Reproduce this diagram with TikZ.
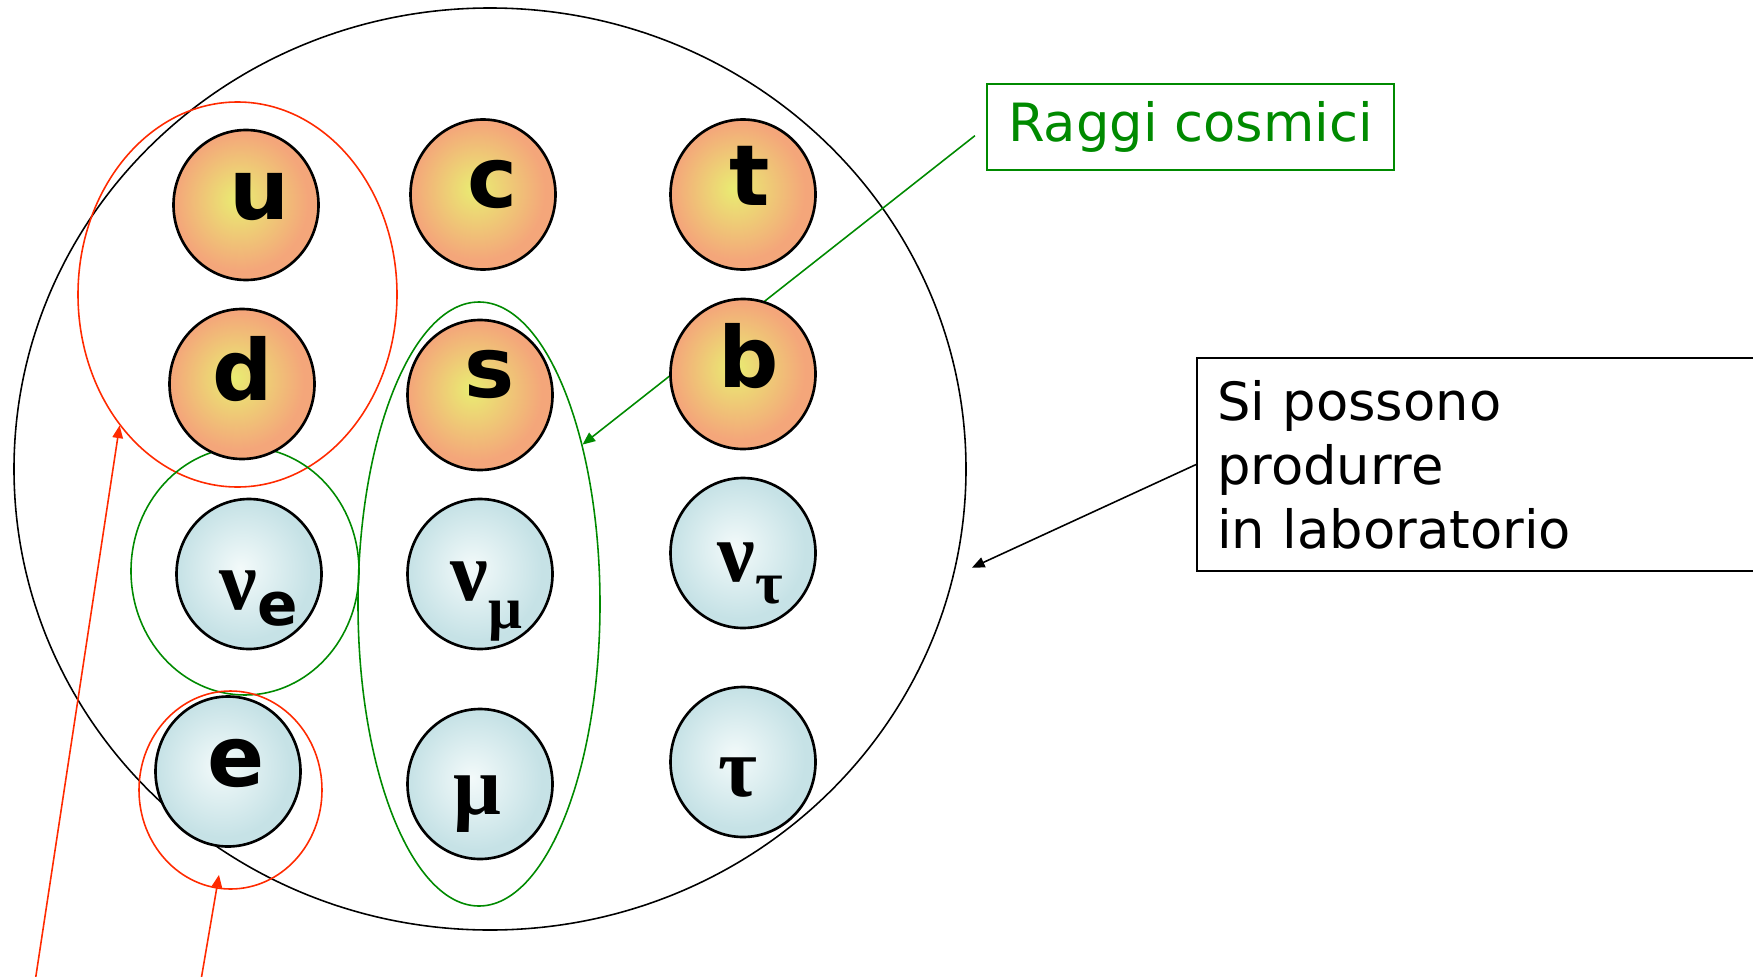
\documentclass[tikz,border=0pt]{standalone}
\usepackage{fontspec}
\setmainfont{DejaVu Sans}
\newfontfamily\grk{Liberation Serif}
\usepackage{xcolor}
\usepackage{tikz}
\usetikzlibrary{shapes.geometric, positioning, arrows.meta}

\definecolor{qin}{HTML}{E9ED72}
\definecolor{qout}{HTML}{F4A67A}
\definecolor{lin}{HTML}{F3FAFA}
\definecolor{lout}{HTML}{C6E2E6}
\definecolor{rosso}{HTML}{FF2A00}
\definecolor{verde}{HTML}{008A00}

\pgfdeclareradialshading{quarkball}{\pgfpoint{-3bp}{2bp}}{color(0bp)=(qin); color(23bp)=(qout); color(50bp)=(qout)}
\pgfdeclareradialshading{leptonball}{\pgfpoint{-3bp}{2bp}}{color(0bp)=(lin); color(23bp)=(lout); color(50bp)=(lout)}

\newcommand{\gsym}[1]{{\grk\bfseries #1}}
\newcommand{\pedice}[2]{\raisebox{#1}{\fontsize{17}{17}\selectfont #2}}

\begin{document}
\begin{tikzpicture}[x=1cm, y=-1cm,
    particle/.style={ellipse, draw, line width=0.75pt, minimum width=1.45cm, minimum height=1.5cm, inner sep=0pt},
    quark/.style={particle, shading=quarkball},
    lepton/.style={particle, shading=leptonball},
    grp/.style={ellipse, draw, line width=0.45pt, inner sep=0pt},
    lbl/.style={anchor=base, inner sep=0pt, font=\bfseries\fontsize{24}{28}\selectfont},
    tip/.style={-{Triangle[length=3.6pt,width=3pt]}, line width=0.45pt}]
  \useasboundingbox (0,0) rectangle (17.53,9.76);
  \clip (0,0) rectangle (17.53,9.76);

  \node[grp, minimum width=9.52cm, minimum height=9.22cm] (lab) at (4.90,4.69) {};
  \node[grp, draw=rosso, minimum width=3.19cm, minimum height=3.85cm] (ud) at (2.375,2.945) {};
  \node[grp, draw=verde, minimum width=2.28cm, minimum height=2.48cm] (nue) at (2.45,5.71) {};
  \node[grp, draw=rosso, minimum width=1.83cm, minimum height=1.98cm] (eg) at (2.305,7.90) {};
  \node[grp, draw=verde, minimum width=2.42cm, minimum height=6.04cm] (smu) at (4.79,6.04) {};

  \node[draw=verde, text=verde, line width=0.6pt, minimum width=4.07cm, minimum height=0.86cm,
        font=\fontsize{15}{18}\selectfont] (raggi) at (11.905,1.27) {Raggi cosmici};
  \node[draw, line width=0.6pt, anchor=north west, text width=6cm, align=left, minimum height=2.13cm,
        inner xsep=0.2cm, font=\fontsize{15}{18.2}\selectfont] (labtxt) at (11.96,3.57)
        {Si possono\\produrre\\in laboratorio};

  \coordinate (p1) at (0.338,9.90);
  \coordinate (p2) at (1.993,9.90);
  \draw[tip, rosso] (p1) -- (ud.228);
  \draw[tip, rosso, shorten >=-0.14cm] (p2) -- (eg.262);
  \draw[tip, verde, shorten <=0.14cm] (raggi.west) -- (smu.57);
  \draw[tip, shorten >=0.2cm] (labtxt.west) -- (lab.-13);

  \foreach \n/\x/\y/\k in {u/2.46/2.05/quark, c/4.83/1.945/quark, t/7.43/1.945/quark,
      d/2.42/3.84/quark, s/4.80/3.95/quark, b/7.43/3.74/quark,
      ne/2.49/5.74/lepton, nm/4.80/5.74/lepton, nt/7.43/5.53/lepton,
      e/2.28/7.715/lepton, m/4.80/7.84/lepton, ta/7.43/7.62/lepton}
    \node[\k] (\n) at (\x,\y) {};

  \foreach \n/\dx/\dy/\txt in {u/0.14/0.14/u, c/0.09/0.125/c, t/0.07/0.105/t,
      d/0.01/0.16/d, s/0.10/0.02/s, b/0.06/0.13/b,
      ne/0.095/0.35/{\gsym{ν}\pedice{-4.8pt}{e}},
      nm/0.065/0.26/{\gsym{ν}\pedice{-8pt}{\gsym{μ}}},
      nt/0.07/0.28/{\gsym{ν}\pedice{-6.5pt}{\gsym{τ}}},
      e/0.08/0.145/e, m/-0.03/0.30/{\gsym{μ}}, ta/-0.05/0.34/{\gsym{τ}}}
    \node[lbl] (l\n) at ([shift={(\dx,\dy)}]\n) {\txt};
\end{tikzpicture}
\end{document}
